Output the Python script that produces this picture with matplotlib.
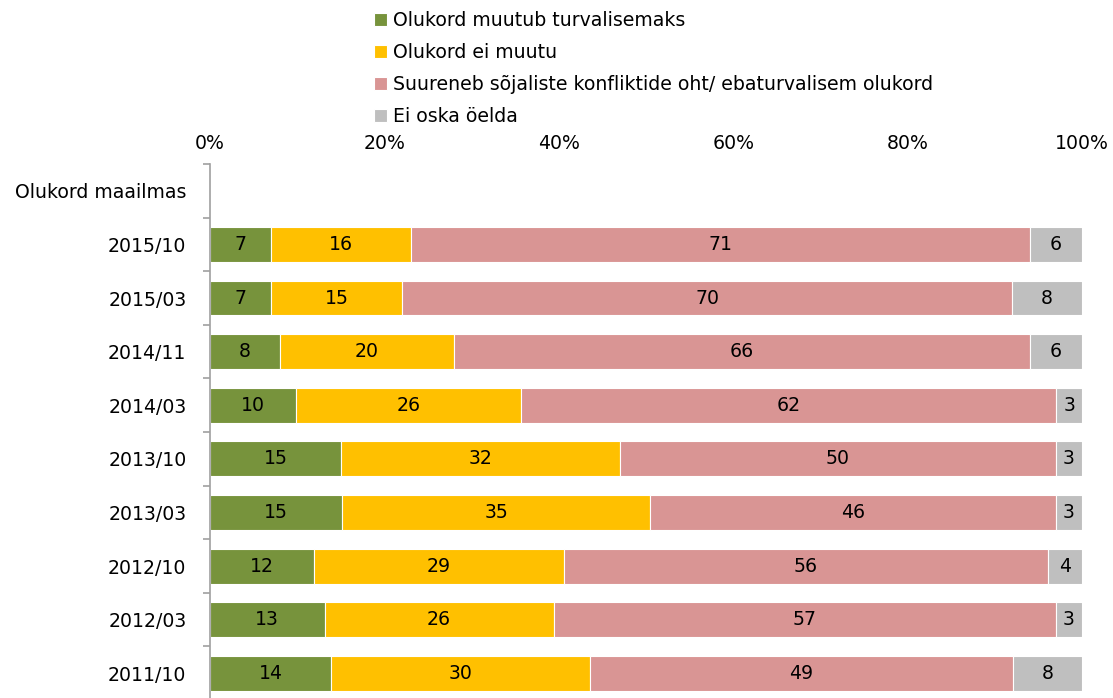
import numpy as np
import matplotlib.pyplot as plt

plt.rcParams['font.family'] = ['DejaVu Sans']

categories = ['Olukord maailmas', '2015/10', '2015/03', '2014/11', '2014/03', '2013/10',
              '2013/03', '2012/10', '2012/03', '2011/10']
series_names = ['Olukord muutub turvalisemaks', 'Olukord ei muutu',
                'Suureneb sõjaliste konfliktide oht/ ebaturvalisem olukord', 'Ei oska öelda']
# first row is a heading row with no data
safer = [np.nan, 7, 7, 8, 10, 15, 15, 12, 13, 14]
same = [np.nan, 16, 15, 20, 26, 32, 35, 29, 26, 30]
worse = [np.nan, 71, 70, 66, 62, 50, 46, 56, 57, 49]
dont_know = [np.nan, 6, 8, 6, 3, 3, 3, 4, 3, 8]
colors = ['#77933C', '#FFC000', '#D99594', '#BFBFBF']

vals = np.array([safer, same, worse, dont_know], dtype=float)
totals = np.nansum(vals, axis=0)
totals[totals == 0] = 1
shares = vals / totals * 100

fs = 13.6
fig = plt.figure(figsize=(11.13, 6.98), dpi=100)
ax = fig.add_axes([0.1887, -0.003, 0.7835, 0.768])

y = np.arange(len(categories))
left = np.zeros(len(categories))
handles = []
for i in range(4):
    w = np.nan_to_num(shares[i])
    b = ax.barh(y, w, left=left, height=0.65, color=colors[i], edgecolor='white',
                linewidth=0.8, label=series_names[i])
    handles.append(b)
    for j in range(len(categories)):
        if not np.isnan(vals[i][j]):
            ax.text(left[j] + w[j] / 2, y[j], f'{int(vals[i][j])}', ha='center', va='center',
                    fontsize=fs, color='black')
    left = left + w

ax.set_xlim(0, 100)
ax.set_ylim(len(categories) - 0.5, -0.5)
ax.set_xticks([0, 20, 40, 60, 80, 100])
ax.set_xticklabels(['0%', '20%', '40%', '60%', '80%', '100%'], fontsize=fs)
ax.xaxis.tick_top()
ax.tick_params(axis='x', length=0, pad=8)
ax.set_yticks(y)
ax.set_yticklabels(categories, fontsize=fs)
ax.set_yticks(np.arange(len(categories) + 1) - 0.5, minor=True)
ax.tick_params(axis='y', which='major', length=0, pad=17)
ax.tick_params(axis='y', which='minor', length=5, color='#A0A0A0', width=1.2)
for s in ['top', 'right', 'bottom']:
    ax.spines[s].set_visible(False)
ax.spines['left'].set_color('#A0A0A0')
ax.spines['left'].set_linewidth(1.2)

fig.legend(handles=handles, loc='upper left', bbox_to_anchor=(0.326, 1.0), frameon=False,
           fontsize=fs, handlelength=0.7, handleheight=0.7, handletextpad=0.3,
           labelspacing=0.68, borderaxespad=0.2)

fig.savefig('out.png', dpi=100)
